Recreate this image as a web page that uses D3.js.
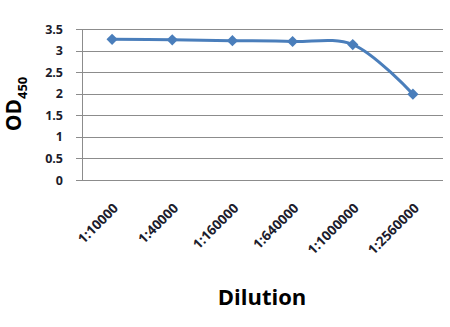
<!DOCTYPE html>
<html>
<head>
<meta charset="utf-8">
<script src="https://cdn.jsdelivr.net/npm/d3@7"></script>
<style>
  body { margin: 0; background: #fff; }
  text { font-family: "Open Sans", "Noto Sans", sans-serif; font-weight: 700; }
</style>
</head>
<body>
<div id="chart"></div>
<script>

const dilutions = ["1:10000", "1:40000", "1:160000", "1:640000", "1:1000000", "1:2560000"];
const od450 = [3.26, 3.25, 3.23, 3.21, 3.14, 1.99];
const yTicks = [0, 0.5, 1, 1.5, 2, 2.5, 3, 3.5];

const W = 450, H = 327;
const plotLeft = 82, plotRight = 443, plotTop = 29, plotBottom = 180;

const svg = d3.select('#chart').append('svg')
  .attr('width', W)
  .attr('height', H);

const x = d3.scaleBand().domain(dilutions).range([plotLeft, plotRight]);
const y = d3.scaleLinear().domain([0, 3.5]).range([plotBottom, plotTop]);

// gridlines
svg.append('g')
  .selectAll('line').data(yTicks)
  .enter().append('line')
    .attr('x1', plotLeft - 6)
    .attr('x2', plotRight)
    .attr('y1', d => Math.round(y(d)) + 0.5)
    .attr('y2', d => Math.round(y(d)) + 0.5)
    .attr('stroke', '#8c8c8c')
    .attr('stroke-width', 1);

// y axis line
svg.append('line')
  .attr('x1', plotLeft + 0.5).attr('x2', plotLeft + 0.5)
  .attr('y1', y(3.5)).attr('y2', y(0))
  .attr('stroke', '#8c8c8c');

// y tick labels
svg.append('g')
  .selectAll('text').data(yTicks)
  .enter().append('text')
    .attr('x', plotLeft - 19)
    .attr('y', d => y(d) + 4.5)
    .attr('text-anchor', 'end')
    .attr('font-size', 12.5)
    .attr('fill', '#1c1c2c')
    .text(d => d);

// x tick labels
svg.append('g')
  .selectAll('text').data(dilutions)
  .enter().append('text')
    .attr('transform', d => `translate(${x(d) + x.bandwidth() / 2 + 7},${plotBottom + 29}) rotate(-45)`)
    .attr('text-anchor', 'end')
    .attr('font-size', 13.5)
    .attr('fill', '#1c1c2c')
    .text(d => d);

// line
const line = d3.line()
  .x((d, i) => x(dilutions[i]) + x.bandwidth() / 2)
  .y(d => y(d))
  .curve(d3.curveCatmullRom.alpha(0.5));

svg.append('path')
  .datum(od450)
  .attr('d', line)
  .attr('fill', 'none')
  .attr('stroke', '#4a7ebb')
  .attr('stroke-width', 3);

// diamond markers
const diamond = d3.symbol().type(d3.symbolDiamond2).size(80);
svg.append('g')
  .selectAll('path').data(od450)
  .enter().append('path')
    .attr('transform', (d, i) => `translate(${x(dilutions[i]) + x.bandwidth() / 2},${y(d)})`)
    .attr('d', diamond)
    .attr('fill', '#4a7ebb');

// axis titles
const yTitle = svg.append('text')
  .attr('transform', `translate(21,104) rotate(-90)`)
  .attr('text-anchor', 'middle')
  .attr('font-size', 21)
  .attr('fill', '#000');
yTitle.append('tspan').text('OD');
yTitle.append('tspan').attr('font-size', 13).attr('dy', 6).text('450');

svg.append('text')
  .attr('x', 262)
  .attr('y', 305)
  .attr('text-anchor', 'middle')
  .attr('font-size', 22)
  .attr('fill', '#000')
  .text('Dilution');

</script>
</body>
</html>
